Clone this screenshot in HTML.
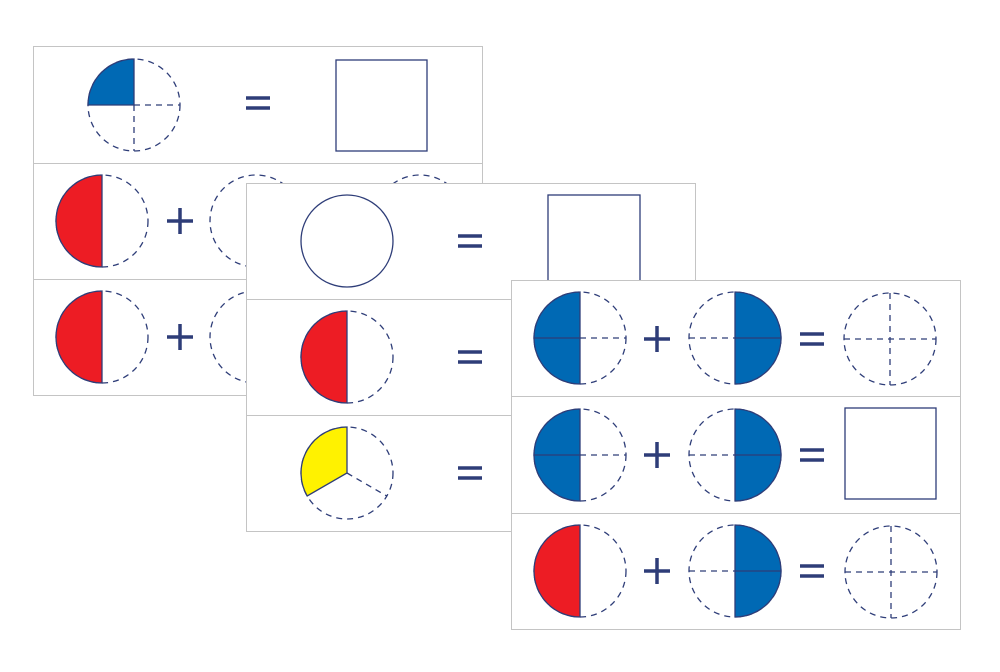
<!DOCTYPE html>
<html><head><style>html,body{margin:0;padding:0;background:#fff;}</style></head>
<body>
<svg width="1000" height="667" viewBox="0 0 1000 667" xmlns="http://www.w3.org/2000/svg">
<defs>
<style>
.c{fill:none;stroke:#2e3d78;stroke-width:1.3}
.d{fill:none;stroke:#2e3d78;stroke-width:1.3;stroke-dasharray:6,5}
.card{fill:#fff;stroke:#c4c4c4;stroke-width:1}
.div{stroke:#c4c4c4;stroke-width:1}
.op{fill:none;stroke:#2e3d78;stroke-width:3.5}
</style>
<g id="eq"><path class="op" d="M-12 -5 H12 M-12 5 H12"/></g>
<g id="pl"><path class="op" d="M-13 0 H13 M0 -13 V13"/></g>
</defs>
<!-- Card 1 -->
<rect class="card" x="33.5" y="46.5" width="449" height="349"/>
<line class="div" x1="33" y1="163.5" x2="482" y2="163.5"/>
<line class="div" x1="33" y1="279.5" x2="482" y2="279.5"/>
<circle class="d" cx="134" cy="105" r="46"/>
<path d="M134 105 L88 105 A46 46 0 0 1 134 59 Z" class="c" style="fill:#0069b4"/>
<path class="d" d="M134 105 L180 105 M134 105 L134 151"/>
<use href="#eq" x="258" y="103"/>
<rect class="c" x="336" y="60" width="91" height="91"/>
<circle class="d" cx="102" cy="221" r="46"/>
<path d="M102 175 A46 46 0 0 0 102 267 Z" class="c" style="fill:#ed1c24"/>
<use href="#pl" x="180" y="221"/>
<circle class="d" cx="256" cy="221" r="46"/>
<circle class="d" cx="420" cy="221" r="46"/>
<circle class="d" cx="102" cy="337" r="46"/>
<path d="M102 291 A46 46 0 0 0 102 383 Z" class="c" style="fill:#ed1c24"/>
<use href="#pl" x="180" y="337"/>
<circle class="d" cx="256" cy="337" r="46"/>
<!-- Card 2 -->
<rect class="card" x="246.5" y="183.5" width="449" height="348"/>
<line class="div" x1="246" y1="299.5" x2="695" y2="299.5"/>
<line class="div" x1="246" y1="415.5" x2="695" y2="415.5"/>
<circle class="c" cx="347" cy="241" r="46"/>
<use href="#eq" x="470" y="241"/>
<rect class="c" x="548" y="195" width="92" height="100"/>
<circle class="d" cx="347" cy="357" r="46"/>
<path d="M347 311 A46 46 0 0 0 347 403 Z" class="c" style="fill:#ed1c24"/>
<use href="#eq" x="470" y="357"/>
<circle class="d" cx="347" cy="473" r="46"/>
<path d="M347 473 L347 427 A46 46 0 0 0 307.2 496 Z" class="c" style="fill:#fff200"/>
<path class="d" d="M347 473 L386.8 496"/>
<use href="#eq" x="470" y="473"/>
<!-- Card 3 -->
<rect class="card" x="511.5" y="280.5" width="449" height="349"/>
<line class="div" x1="511" y1="396.5" x2="960" y2="396.5"/>
<line class="div" x1="511" y1="513.5" x2="960" y2="513.5"/>
<!-- row1 -->
<circle class="d" cx="580" cy="338" r="46"/>
<path d="M580 292 A46 46 0 0 0 580 384 Z" class="c" style="fill:#0069b4"/>
<line class="c" x1="534" y1="338" x2="580" y2="338"/>
<line class="d" x1="580" y1="338" x2="626" y2="338"/>
<use href="#pl" x="657" y="339"/>
<circle class="d" cx="735" cy="338" r="46"/>
<path d="M735 292 A46 46 0 0 1 735 384 Z" class="c" style="fill:#0069b4"/>
<line class="c" x1="735" y1="338" x2="781" y2="338"/>
<line class="d" x1="689" y1="338" x2="735" y2="338"/>
<use href="#eq" x="812" y="339"/>
<circle class="d" cx="890" cy="339" r="46"/>
<path class="d" d="M844 339 H936 M890 293 V385"/>
<!-- row2 -->
<circle class="d" cx="580" cy="455" r="46"/>
<path d="M580 409 A46 46 0 0 0 580 501 Z" class="c" style="fill:#0069b4"/>
<line class="c" x1="534" y1="455" x2="580" y2="455"/>
<line class="d" x1="580" y1="455" x2="626" y2="455"/>
<use href="#pl" x="657" y="455"/>
<circle class="d" cx="735" cy="455" r="46"/>
<path d="M735 409 A46 46 0 0 1 735 501 Z" class="c" style="fill:#0069b4"/>
<line class="c" x1="735" y1="455" x2="781" y2="455"/>
<line class="d" x1="689" y1="455" x2="735" y2="455"/>
<use href="#eq" x="812" y="455"/>
<rect class="c" x="845" y="408" width="91" height="91"/>
<!-- row3 -->
<circle class="d" cx="580" cy="571" r="46"/>
<path d="M580 525 A46 46 0 0 0 580 617 Z" class="c" style="fill:#ed1c24"/>
<use href="#pl" x="657" y="571"/>
<circle class="d" cx="735" cy="571" r="46"/>
<path d="M735 525 A46 46 0 0 1 735 617 Z" class="c" style="fill:#0069b4"/>
<line class="c" x1="735" y1="571" x2="781" y2="571"/>
<line class="d" x1="689" y1="571" x2="735" y2="571"/>
<use href="#eq" x="812" y="571"/>
<circle class="d" cx="891" cy="572" r="46"/>
<path class="d" d="M845 572 H937 M891 526 V618"/>
</svg>
</body></html>
